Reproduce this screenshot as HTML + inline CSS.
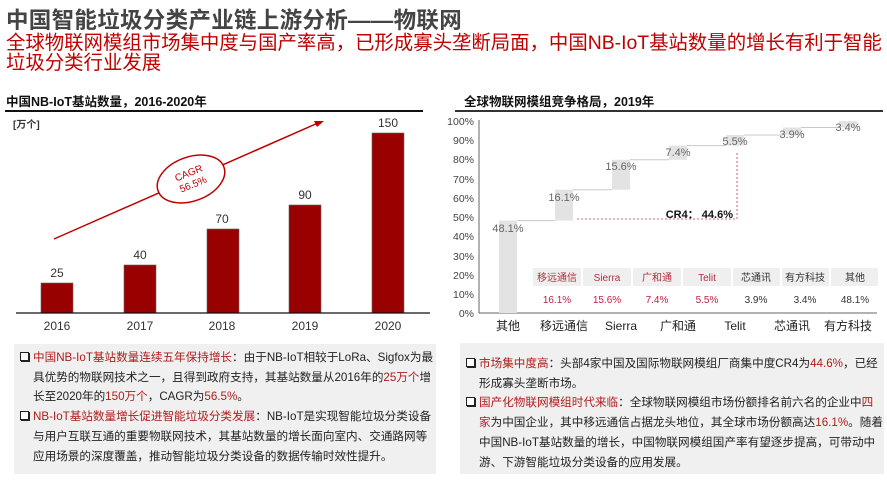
<!DOCTYPE html>
<html><head><meta charset="utf-8">
<style>
body{margin:0;width:887px;height:481px;background:#fff;position:relative;overflow:hidden;font-family:"Liberation Sans","Noto Sans CJK SC",sans-serif;}
.a{position:absolute;white-space:nowrap;}
.box{position:absolute;background:#f0f0f0;}
.bt{position:absolute;font-size:11.6px;line-height:19.7px;color:#222;white-space:nowrap;}
.r{color:#b01c1c;}
.sq{display:inline-block;width:7px;height:7px;border:1px solid #222;box-shadow:1px 1px 0 #222;margin-right:4px;vertical-align:0px;background:#fff;}
</style></head><body>
<div class="a" style="left:6px;top:3px;font-size:22.5px;color:#444;font-weight:bold;letter-spacing:0.3px;">中国智能垃圾分类产业链上游分析——物联网</div>
<div class="a" style="left:6px;top:33px;font-size:19.4px;line-height:20px;color:#c00000;">全球物联网模组市场集中度与国产率高，已形成寡头垄断局面，中国NB-IoT基站数量的增长有利于智能<br>垃圾分类行业发展</div>

<div class="a" style="left:6px;top:91px;font-size:12.5px;font-weight:bold;color:#111;">中国NB-IoT基站数量，2016-2020年</div>
<div class="a" style="left:5px;top:110px;width:418px;height:2px;background:#111;"></div>
<div class="a" style="left:464px;top:91px;font-size:12.5px;font-weight:bold;color:#111;">全球物联网模组竞争格局，2019年</div>
<div class="a" style="left:455px;top:110px;width:428px;height:1.5px;background:#333;"></div>

<svg class="a" style="left:0;top:0" width="887" height="481" font-family="Liberation Sans, Noto Sans CJK SC, sans-serif">
<text x="13" y="128" font-size="10" font-weight="bold" fill="#333">[万个]</text>
<g fill="#990000" stroke="#666" stroke-width="0.6">
<rect x="41" y="283" width="32" height="30"/>
<rect x="124" y="265" width="32" height="48"/>
<rect x="207" y="229" width="32" height="84"/>
<rect x="289" y="205" width="32" height="108"/>
<rect x="372" y="133" width="32" height="180"/>
</g>
<line x1="16" y1="313" x2="430" y2="313" stroke="#111" stroke-width="1.3"/>
<g font-size="12" fill="#333" text-anchor="middle">
<text x="57" y="277">25</text><text x="140" y="259">40</text><text x="222" y="223">70</text><text x="305" y="199">90</text><text x="388" y="127">150</text>
<text x="57" y="330">2016</text><text x="140" y="330">2017</text><text x="222" y="330">2018</text><text x="305" y="330">2019</text><text x="388" y="330">2020</text>
</g>
<line x1="54" y1="239" x2="318" y2="123" stroke="#c00000" stroke-width="1.5"/>
<polygon points="324,121 314,121 317,127" fill="#c00000"/>
<ellipse cx="191" cy="179" rx="35" ry="22" fill="#fff" stroke="#c00000" stroke-width="1.5" transform="rotate(-20 191 179)"/>
<g transform="rotate(-22 191 179)" font-size="10" fill="#c00000" text-anchor="middle"><text x="191" y="176">CAGR</text><text x="191" y="188">56.5%</text></g>

<g font-size="10.5" fill="#444" text-anchor="end">
<text x="474" y="125">100%</text><text x="474" y="144">90%</text><text x="474" y="163">80%</text><text x="474" y="183">70%</text><text x="474" y="202">60%</text><text x="474" y="221">50%</text><text x="474" y="240">40%</text><text x="474" y="260">30%</text><text x="474" y="279">20%</text><text x="474" y="298">10%</text><text x="474" y="317">0%</text>
</g>
<line x1="479" y1="120" x2="479" y2="313" stroke="#666"/>
<line x1="479" y1="313" x2="877" y2="313" stroke="#666"/>
<g fill="#e3e3e3">
<rect x="499" y="220.6" width="18" height="92.4"/>
<rect x="555" y="189.7" width="18" height="30.9"/>
<rect x="612" y="159.8" width="18" height="29.9"/>
<rect x="669" y="145.6" width="18" height="14.2"/>
<rect x="726" y="135" width="18" height="10.6"/>
<rect x="783" y="127.5" width="18" height="7.5"/>
<rect x="839" y="121" width="18" height="6.5"/>
</g>
<g stroke="#c8c8c8" stroke-width="1">
<line x1="517" y1="220.6" x2="555" y2="220.6"/><line x1="573" y1="189.7" x2="612" y2="189.7"/><line x1="630" y1="159.8" x2="669" y2="159.8"/><line x1="687" y1="145.6" x2="726" y2="145.6"/><line x1="744" y1="135" x2="783" y2="135"/><line x1="801" y1="127.5" x2="839" y2="127.5"/>
</g>
<g font-size="11" fill="#666" text-anchor="middle">
<text x="508" y="232">48.1%</text><text x="564" y="201">16.1%</text><text x="621" y="170">15.6%</text><text x="678" y="156">7.4%</text><text x="735" y="145">5.5%</text><text x="792" y="138">3.9%</text><text x="848" y="131">3.4%</text>
</g>
<polyline points="577,219 737,219 737,152" fill="none" stroke="#c04040" stroke-width="0.8" stroke-dasharray="2,2"/>
<text x="733" y="218" font-size="11" font-weight="bold" fill="#111" text-anchor="end">CR4： 44.6%</text>
<g fill="#efefef">
<rect x="533" y="268" width="48" height="18"/><rect x="583" y="268" width="48" height="18"/><rect x="633" y="268" width="48" height="18"/><rect x="683" y="268" width="48" height="18"/><rect x="733" y="268" width="47" height="18"/><rect x="782" y="268" width="47" height="18"/><rect x="831" y="268" width="47" height="18"/>
</g>
<g font-size="10" text-anchor="middle">
<text x="557" y="281" fill="#b03040">移远通信</text><text x="607" y="281" fill="#b03040">Sierra</text><text x="657" y="281" fill="#b03040">广和通</text><text x="707" y="281" fill="#b03040">Telit</text><text x="756" y="281" fill="#333">芯通讯</text><text x="805" y="281" fill="#333">有方科技</text><text x="855" y="281" fill="#333">其他</text>
<text x="557" y="303" fill="#c02040">16.1%</text><text x="607" y="303" fill="#c02040">15.6%</text><text x="657" y="303" fill="#c02040">7.4%</text><text x="707" y="303" fill="#c02040">5.5%</text><text x="756" y="303" fill="#333">3.9%</text><text x="805" y="303" fill="#333">3.4%</text><text x="855" y="303" fill="#333">48.1%</text>
</g>
<g font-size="12" fill="#222" text-anchor="middle">
<text x="508" y="330">其他</text><text x="564" y="330">移远通信</text><text x="621" y="330">Sierra</text><text x="678" y="330">广和通</text><text x="735" y="330">Telit</text><text x="792" y="330">芯通讯</text><text x="848" y="330">有方科技</text>
</g>
</svg>

<div class="box" style="left:14px;top:344px;width:422px;height:130px;"></div>
<div class="box" style="left:460px;top:343px;width:424px;height:131px;"></div>
<div class="bt" style="left:20px;top:348px;">
<span class="sq"></span><span class="r">中国NB-IoT基站数量连续五年保持增长</span>：由于NB-IoT相较于LoRa、Sigfox为最<br>
<span style="padding-left:13px"></span>具优势的物联网技术之一，且得到政府支持，其基站数量从2016年的<span class="r">25万个</span>增<br>
<span style="padding-left:13px"></span>长至2020年的<span class="r">150万个</span>，CAGR为<span class="r">56.5%</span>。<br>
<span class="sq"></span><span class="r">NB-IoT基站数量增长促进智能垃圾分类发展</span>：NB-IoT是实现智能垃圾分类设备<br>
<span style="padding-left:13px"></span>与用户互联互通的重要物联网技术，其基站数量的增长面向室内、交通路网等<br>
<span style="padding-left:13px"></span>应用场景的深度覆盖，推动智能垃圾分类设备的数据传输时效性提升。
</div>
<div class="bt" style="left:466px;top:354px;">
<span class="sq"></span><span class="r">市场集中度高</span>：头部4家中国及国际物联网模组厂商集中度CR4为<span class="r">44.6%</span>，已经<br>
<span style="padding-left:13px"></span>形成寡头垄断市场。<br>
<span class="sq"></span><span class="r">国产化物联网模组时代来临</span>：全球物联网模组市场份额排名前六名的企业中<span class="r">四</span><br>
<span style="padding-left:13px"></span><span class="r">家</span>为中国企业，其中移远通信占据龙头地位，其全球市场份额高达<span class="r">16.1%</span>。随着<br>
<span style="padding-left:13px"></span>中国NB-IoT基站数量的增长，中国物联网模组国产率有望逐步提高，可带动中<br>
<span style="padding-left:13px"></span>游、下游智能垃圾分类设备的应用发展。
</div>
</body></html>
